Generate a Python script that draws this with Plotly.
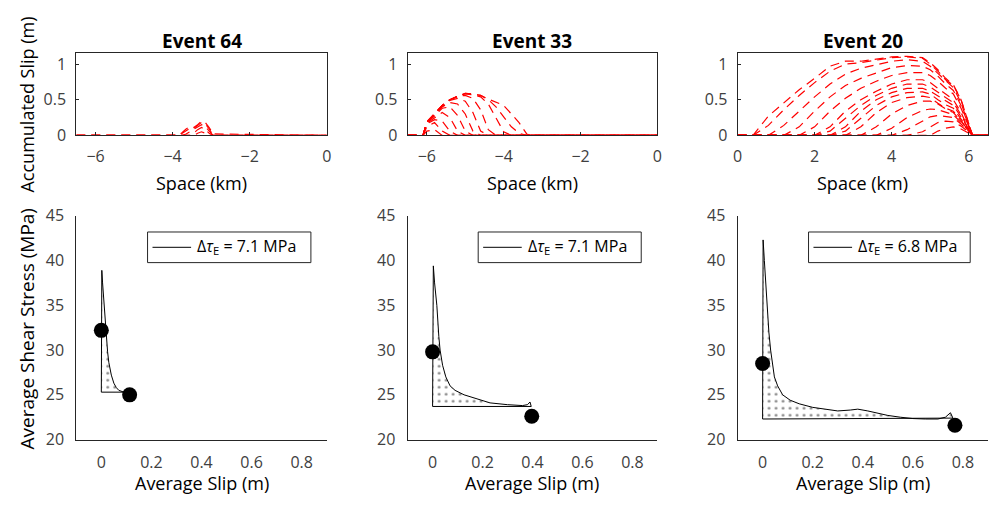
import plotly.graph_objects as go

W, H = 994, 508
FONT = "Open Sans"

# ---------------- data: top row (accumulated slip profiles) ----------------
EVENTS = ["Event 64", "Event 33", "Event 20"]

GRID_64 = [-6.5, -3.85, -3.75, -3.65, -3.55, -3.45, -3.35, -3.25, -3.15, -3.05, -2.95, 0]
PROFILES_64 = [
    [0, 0, 0, 0, 0, 0, 0.03, 0.05, 0.03, 0, 0, 0],
    [0, 0, 0, 0, 0, 0.03, 0.08, 0.11, 0.08, 0.03, 0, 0],
    [0, 0, 0, 0.02, 0.05, 0.08, 0.12, 0.15, 0.12, 0.06, 0, 0],
    [0, 0, 0.03, 0.07, 0.10, 0.10, 0.14, 0.18, 0.16, 0.09, 0, 0],
    [0, 0, 0.04, 0.09, 0.12, 0.11, 0.15, 0.20, 0.18, 0.11, 0.02, 0],
]

GRID_33 = [-6.5, -6.1, -6.0, -5.8, -5.6, -5.4, -5.2, -5.0, -4.8, -4.6, -4.4, -4.2, -4.0, -3.8, -3.6, -3.4, -3.3, 0]
PROFILES_33 = [
    [0, 0, 0.06, 0.08, 0, 0, 0, 0, 0, 0, 0, 0, 0, 0, 0, 0, 0, 0],
    [0, 0, 0.12, 0.18, 0.06, 0, 0, 0, 0, 0, 0, 0, 0, 0, 0, 0, 0, 0],
    [0, 0, 0.16, 0.22, 0.20, 0.06, 0, 0, 0, 0, 0, 0, 0, 0, 0, 0, 0, 0],
    [0, 0, 0.17, 0.25, 0.32, 0.25, 0.06, 0, 0, 0, 0, 0, 0, 0, 0, 0, 0, 0],
    [0, 0, 0.18, 0.27, 0.38, 0.40, 0.28, 0.06, 0, 0, 0, 0, 0, 0, 0, 0, 0, 0],
    [0, 0, 0.18, 0.28, 0.40, 0.46, 0.44, 0.30, 0.06, 0, 0, 0, 0, 0, 0, 0, 0, 0],
    [0, 0, 0.18, 0.29, 0.41, 0.49, 0.52, 0.48, 0.32, 0.06, 0, 0, 0, 0, 0, 0, 0, 0],
    [0, 0, 0.18, 0.29, 0.42, 0.50, 0.55, 0.56, 0.52, 0.36, 0.08, 0, 0, 0, 0, 0, 0, 0],
    [0, 0, 0.18, 0.29, 0.42, 0.50, 0.55, 0.58, 0.57, 0.54, 0.44, 0.24, 0.05, 0, 0, 0, 0, 0],
    [0, 0, 0.19, 0.30, 0.42, 0.50, 0.55, 0.59, 0.58, 0.56, 0.50, 0.40, 0.26, 0.12, 0.03, 0, 0, 0],
    [0, 0, 0.19, 0.30, 0.42, 0.50, 0.55, 0.59, 0.58, 0.56, 0.51, 0.47, 0.42, 0.30, 0.18, 0.02, 0, 0],
]

GRID_20 = [0, 0.4, 0.8, 1.2, 1.6, 2.0, 2.4, 2.8, 3.2, 3.6, 4.0, 4.4, 4.8, 5.0, 5.2, 5.4, 5.6, 5.8, 6.0, 6.1, 6.5]
PROFILES_20 = [
    [0, 0, 0, 0, 0, 0, 0, 0, 0, 0, 0, 0, 0, 0, 0.06, 0.10, 0.12, 0.09, 0.03, 0, 0],
    [0, 0, 0, 0, 0, 0, 0, 0, 0, 0, 0, 0, 0.05, 0.12, 0.18, 0.20, 0.19, 0.13, 0.04, 0, 0],
    [0, 0, 0, 0, 0, 0, 0, 0, 0, 0, 0, 0.08, 0.20, 0.26, 0.28, 0.27, 0.25, 0.16, 0.05, 0, 0],
    [0, 0, 0, 0, 0, 0, 0, 0, 0, 0, 0.10, 0.25, 0.35, 0.37, 0.36, 0.33, 0.29, 0.18, 0.06, 0, 0],
    [0, 0, 0, 0, 0, 0, 0, 0, 0, 0.12, 0.30, 0.42, 0.48, 0.48, 0.44, 0.37, 0.32, 0.20, 0.06, 0, 0],
    [0, 0, 0, 0, 0, 0, 0, 0, 0.12, 0.32, 0.46, 0.53, 0.55, 0.53, 0.45, 0.38, 0.34, 0.21, 0.07, 0, 0],
    [0, 0, 0, 0, 0, 0, 0, 0.06, 0.24, 0.42, 0.54, 0.60, 0.61, 0.58, 0.50, 0.43, 0.38, 0.23, 0.07, 0, 0],
    [0, 0, 0, 0, 0, 0, 0, 0.12, 0.34, 0.50, 0.60, 0.66, 0.66, 0.62, 0.55, 0.48, 0.42, 0.26, 0.08, 0, 0],
    [0, 0, 0, 0, 0, 0, 0.06, 0.24, 0.42, 0.56, 0.66, 0.72, 0.72, 0.68, 0.60, 0.53, 0.46, 0.29, 0.08, 0, 0],
    [0, 0, 0, 0, 0, 0, 0.12, 0.34, 0.50, 0.62, 0.72, 0.78, 0.78, 0.74, 0.66, 0.58, 0.50, 0.32, 0.09, 0, 0],
    [0, 0, 0, 0, 0, 0.12, 0.34, 0.52, 0.66, 0.76, 0.84, 0.88, 0.88, 0.84, 0.76, 0.66, 0.58, 0.38, 0.11, 0, 0],
    [0, 0, 0, 0, 0.12, 0.34, 0.54, 0.70, 0.80, 0.88, 0.95, 0.98, 0.97, 0.92, 0.83, 0.72, 0.63, 0.42, 0.12, 0, 0],
    [0, 0, 0, 0.14, 0.34, 0.54, 0.72, 0.86, 0.94, 0.99, 1.04, 1.06, 1.04, 0.97, 0.87, 0.76, 0.67, 0.46, 0.13, 0, 0],
    [0, 0, 0.14, 0.36, 0.56, 0.74, 0.90, 1.00, 1.02, 1.05, 1.09, 1.10, 1.08, 1.00, 0.90, 0.78, 0.70, 0.50, 0.15, 0, 0],
    [0, 0, 0.27, 0.46, 0.64, 0.80, 0.97, 1.04, 1.04, 1.07, 1.10, 1.11, 1.09, 1.02, 0.92, 0.80, 0.71, 0.50, 0.15, 0, 0],
]

X_TICKS_TOP = [[-6, -4, -2, 0], [-6, -4, -2, 0], [0, 2, 4, 6]]
X_RANGE_TOP = [[-6.5, 0], [-6.5, 0], [0, 6.5]]
Y_TICKS_TOP = [0, 0.5, 1]
Y_TICKTEXT_TOP = ["0", "0.5", "1"]

# ---------------- data: bottom row (stress vs slip) ----------------
SLIP_64 = [0, 0.002, 0.005, 0.01, 0.015, 0.02, 0.025, 0.03, 0.04, 0.05, 0.06, 0.07, 0.08, 0.09]
STRESS_64 = [25.3, 38.9, 37.5, 35.5, 33.0, 31.0, 29.8, 28.6, 27.2, 26.3, 25.8, 25.5, 25.4, 25.3]
BASE_64 = 25.3
DOTS_X_64 = [0, 0.113]
DOTS_Y_64 = [32.2, 25.0]

SLIP_33 = [0, 0.003, 0.008, 0.017, 0.025, 0.03, 0.04, 0.053, 0.07, 0.09, 0.126, 0.18, 0.23, 0.3, 0.36, 0.38, 0.39, 0.395]
STRESS_33 = [23.7, 39.4, 37.5, 35.0, 31.5, 30.0, 28.3, 27.0, 26.0, 25.5, 25.0, 24.5, 24.1, 23.9, 23.8, 23.9, 24.2, 23.7]
BASE_33 = 23.7
DOTS_X_33 = [0, 0.397]
DOTS_Y_33 = [29.8, 22.6]

SLIP_20 = [0, 0.002, 0.007, 0.017, 0.025, 0.032, 0.04, 0.047, 0.06, 0.08, 0.11, 0.146, 0.2, 0.25, 0.3,
           0.35, 0.38, 0.42, 0.45, 0.5, 0.55, 0.6, 0.65, 0.7, 0.73, 0.75, 0.76]
STRESS_20 = [22.3, 42.3, 40.0, 35.0, 32.0, 30.0, 28.5, 27.0, 26.0, 25.0, 24.4, 24.0, 23.6, 23.4, 23.2,
             23.3, 23.4, 23.2, 23.0, 22.7, 22.5, 22.35, 22.3, 22.3, 22.5, 23.0, 22.4]
BASE_20 = 22.3
DOTS_X_20 = [0, 0.768]
DOTS_Y_20 = [28.5, 21.6]

DELTA_TAU = ["7.1", "7.1", "6.8"]
X_TICKS_BOT = [0, 0.2, 0.4, 0.6, 0.8]
X_TICKTEXT_BOT = ["0", "0.2", "0.4", "0.6", "0.8"]
Y_TICKS_BOT = [20, 25, 30, 35, 40, 45]

# ---------------- layout geometry (pixels) ----------------
def px(x):
    return x / W

def py(y):
    return 1 - y / H

X_DOMS = [(px(72), px(325)), (px(406.7), px(659)), (px(740), px(993))]
TOP_DOM = (py(130), py(44.3))
BOT_DOM = (py(448), py(214))
LEGEND_BOX = [(144, 309), (478, 642.7), (811.7, 975)]
LEGEND_TOP, LEGEND_BOTTOM = 231, 263

fig = go.Figure()

grids = [GRID_64, GRID_33, GRID_20]
profiles = [PROFILES_64, PROFILES_33, PROFILES_20]
for i in range(3):
    xa = "x" if i == 0 else f"x{i+1}"
    ya = "y" if i == 0 else f"y{i+1}"
    for prof in profiles[i]:
        fig.add_trace(go.Scatter(
            x=grids[i], y=prof, mode="lines", xaxis=xa, yaxis=ya,
            line=dict(color="#ff0000", width=1.2, dash="9px,6px"),
            showlegend=False, hoverinfo="skip"))

slips = [SLIP_64, SLIP_33, SLIP_20]
stresses = [STRESS_64, STRESS_33, STRESS_20]
bases = [BASE_64, BASE_33, BASE_20]
dots_x = [DOTS_X_64, DOTS_X_33, DOTS_X_20]
dots_y = [DOTS_Y_64, DOTS_Y_33, DOTS_Y_20]
for i in range(3):
    xa = f"x{i+4}"
    ya = f"y{i+4}"
    poly_x = list(slips[i]) + [slips[i][0]]
    poly_y = list(stresses[i]) + [bases[i]]
    fig.add_trace(go.Scatter(
        x=poly_x, y=poly_y, mode="lines", xaxis=xa, yaxis=ya,
        fill="toself", fillcolor="rgba(0,0,0,0)",
        fillpattern=dict(shape=".", fgcolor="black", bgcolor="white", size=7, solidity=0.12),
        line=dict(color="black", width=1), showlegend=False, hoverinfo="skip"))
    fig.add_trace(go.Scatter(
        x=dots_x[i], y=dots_y[i], mode="markers", xaxis=xa, yaxis=ya,
        marker=dict(color="black", size=15), showlegend=False, hoverinfo="skip"))

tick_font = dict(family=FONT, size=16, color="#404040")
layout = dict(
    width=W, height=H, autosize=False,
    margin=dict(l=0, r=0, t=0, b=0),
    paper_bgcolor="white", plot_bgcolor="white",
    font=dict(family=FONT, color="black"),
    showlegend=False,
)

for i in range(3):
    xk = "xaxis" if i == 0 else f"xaxis{i+1}"
    yk = "yaxis" if i == 0 else f"yaxis{i+1}"
    xa = "x" if i == 0 else f"x{i+1}"
    ya = "y" if i == 0 else f"y{i+1}"
    layout[xk] = dict(domain=list(X_DOMS[i]), anchor=ya, range=X_RANGE_TOP[i],
                      tickvals=X_TICKS_TOP[i], showgrid=False, zeroline=False,
                      showline=True, mirror=True, linecolor="#262626", linewidth=1,
                      ticks="inside", ticklen=3, tickcolor="#262626",
                      tickfont=tick_font, ticklabelstandoff=6)
    layout[yk] = dict(domain=list(TOP_DOM), anchor=xa, range=[0, 1.15],
                      tickvals=Y_TICKS_TOP, ticktext=Y_TICKTEXT_TOP,
                      showgrid=False, zeroline=False,
                      showline=True, mirror=True, linecolor="#262626", linewidth=1,
                      ticks="inside", ticklen=3, tickcolor="#262626",
                      tickfont=tick_font, ticklabelstandoff=6)
    xk2 = f"xaxis{i+4}"
    yk2 = f"yaxis{i+4}"
    layout[xk2] = dict(domain=list(X_DOMS[i]), anchor=f"y{i+4}", range=[-0.1, 0.9],
                       tickvals=X_TICKS_BOT, ticktext=X_TICKTEXT_BOT,
                       showgrid=False, zeroline=False, showline=True, mirror=False,
                       linecolor="#262626", linewidth=1, ticks="",
                       tickfont=tick_font, ticklabelstandoff=8)
    layout[yk2] = dict(domain=list(BOT_DOM), anchor=f"x{i+4}", range=[20, 45],
                       tickvals=Y_TICKS_BOT, showgrid=False, zeroline=False,
                       showline=True, mirror=False, linecolor="#262626", linewidth=1,
                       ticks="", tickfont=tick_font, ticklabelstandoff=8)

shapes = []
annotations = []
for i in range(3):
    cx = (X_DOMS[i][0] + X_DOMS[i][1]) / 2
    annotations.append(dict(text=f"<b>{EVENTS[i]}</b>", x=cx, y=py(31), xref="paper", yref="paper",
                            showarrow=False, font=dict(family=FONT, size=19, color="black"),
                            xanchor="center", yanchor="middle"))
    annotations.append(dict(text="Space (km)", x=cx, y=py(180), xref="paper", yref="paper",
                            showarrow=False, font=dict(family=FONT, size=18, color="black"),
                            xanchor="center", yanchor="middle"))
    annotations.append(dict(text="Average Slip (m)", x=cx, y=py(493), xref="paper", yref="paper",
                            showarrow=False, font=dict(family=FONT, size=18, color="black"),
                            xanchor="center", yanchor="middle"))
    # legend box (drawn by hand so its size matches the original)
    x0, x1 = LEGEND_BOX[i]
    shapes.append(dict(type="rect", xref="paper", yref="paper",
                       x0=px(x0), x1=px(x1), y0=py(LEGEND_BOTTOM), y1=py(LEGEND_TOP),
                       line=dict(color="#262626", width=1), fillcolor="white", layer="above"))
    ymid = (LEGEND_TOP + LEGEND_BOTTOM) / 2
    shapes.append(dict(type="line", xref="paper", yref="paper",
                       x0=px(x0 + 5), x1=px(x0 + 44), y0=py(ymid), y1=py(ymid),
                       line=dict(color="black", width=1), layer="above"))
    annotations.append(dict(text=f"\u0394<i>\u03c4</i><sub>E</sub> = {DELTA_TAU[i]} MPa",
                            x=px(x0 + 48), y=py(ymid - 1), xref="paper", yref="paper",
                            showarrow=False, font=dict(family=FONT, size=16, color="black"),
                            xanchor="left", yanchor="middle"))

annotations.append(dict(text="Accumulated Slip (m)", x=px(22), y=py(98), xref="paper", yref="paper",
                        showarrow=False, textangle=-90, font=dict(family=FONT, size=18, color="black"),
                        xanchor="center", yanchor="middle"))
annotations.append(dict(text="Average Shear Stress (MPa)", x=px(22), y=py(332), xref="paper", yref="paper",
                        showarrow=False, textangle=-90, font=dict(family=FONT, size=19, color="black"),
                        xanchor="center", yanchor="middle"))
layout["annotations"] = annotations
layout["shapes"] = shapes

fig.update_layout(**layout)
fig.write_html("out.html")
